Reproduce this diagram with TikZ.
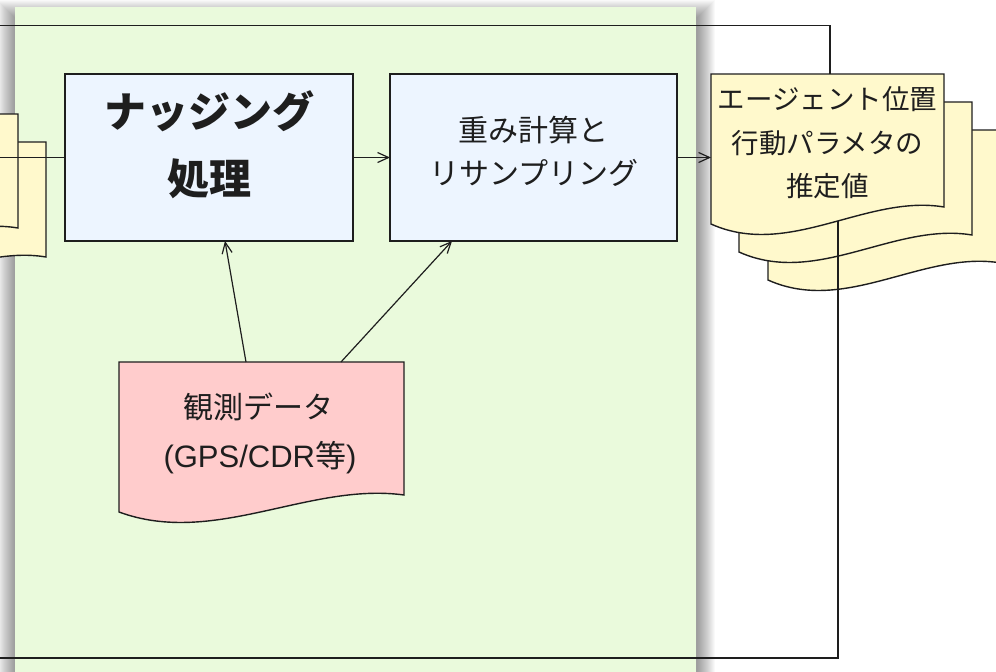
\documentclass[tikz,border=0pt]{standalone}
\usepackage{fontspec}
\setmainfont{Liberation Sans}
\newfontfamily\jp{Noto Sans CJK JP}
\usetikzlibrary{arrows.meta,calc}
\definecolor{panelgreen}{RGB}{234,250,220}
\definecolor{boxblue}{RGB}{237,245,255}
\definecolor{docyellow}{RGB}{255,249,204}
\definecolor{obspink}{RGB}{255,204,204}
\definecolor{ink}{RGB}{30,30,30}
\newcommand{\mydoc}[6]{%
  \path[draw=ink,line width=1.4pt,fill=#6,line join=miter]
    (#2,#3) -- ++(#4,0) -- ++(0,#5-17)
    .. controls ($(#2,#3)+(2*#4/3,#5-30)$) and ($(#2,#3)+(#4/3,#5+35)$) .. ($(#2,#3)+(0,#5)$) -- cycle;
  \node[minimum width=#4pt,minimum height=#5pt,inner sep=0pt,outer sep=0pt,anchor=north west] (#1) at (#2,#3) {};
}
\begin{document}
\begin{tikzpicture}[x=1pt,y=-1pt,
  box/.style={draw=ink,line width=1.5pt,fill=boxblue,minimum height=167pt,inner sep=0pt,outer sep=0pt},
  conn/.style={draw=ink,line width=1.2pt},
  arr/.style={conn,-{Straight Barb[length=11pt,width=10pt]}},
  txt/.style={inner sep=0pt,anchor=base,text=ink}]
\useasboundingbox (0,0) rectangle (996,672);
\clip (0,0) rectangle (996,672);
\fill[white] (0,0) rectangle (996,672);
% panel shadow
\foreach \k in {1,...,18}{
  \fill[black,opacity=0.022] (15-\k,18-\k) rectangle (697+\k,700);
}
% panel
\fill[panelgreen] (15,7) rectangle (696,700);
% left stack (cropped)
\mydoc{ldocB}{-187}{142}{233}{132}{docyellow}
\mydoc{ldocA}{-215}{114}{233}{131}{docyellow}
% right stack
\mydoc{doc3}{768}{130}{233}{150}{docyellow}
\mydoc{doc2}{739}{102}{233}{150}{docyellow}
\mydoc{doc1}{711}{74}{233}{150}{docyellow}
% observation
\mydoc{obs}{119}{362}{285}{150}{obspink}
% boxes
\node[box,minimum width=288pt] (nudge) at (209,157.5) {};
\node[box,minimum width=287pt] (weight) at (533.5,157.5) {};
% texts
\node[txt,font=\jp\bfseries\fontsize{42}{50}\selectfont] (nt1) at (209,127.5) {ナッジング};
\node[txt,font=\jp\bfseries\fontsize{42}{50}\selectfont] (nt2) at (209,194) {処理};
\node[txt,font=\jp\fontsize{30}{36}\selectfont] (wt1) at (533,141) {重み計算と};
\node[txt,font=\jp\fontsize{30}{36}\selectfont] (wt2) at (534,184.5) {リサンプリング};
\node[txt,font=\jp\fontsize{27.5}{33}\selectfont] (dt1) at (827.5,109) {エージェント位置};
\node[txt,font=\jp\fontsize{27.5}{33}\selectfont] (dt2) at (827.5,153.5) {行動パラメタの};
\node[txt,font=\jp\fontsize{27.5}{33}\selectfont] (dt3) at (827.5,196) {推定値};
\node[txt,font=\jp\fontsize{30}{36}\selectfont] (ot1) at (258,418) {観測データ};
\node[txt,font=\fontsize{31}{36}\selectfont] (ot2) at (260,467) {(GPS/CDR{\jp 等})};
% free ends and connection points
\coordinate (lfree) at (-5,157.5);
\coordinate (topfree) at (-5,25.5);
\coordinate (botfree) at (-5,658);
\coordinate (doc1top) at (830,74);
\coordinate (doc1out) at (838,221);
\coordinate (obsA) at (246,362);
\coordinate (obsB) at (341,362);
\coordinate (nudgeIn) at (225,241);
\coordinate (weightIn) at (452,241);
% connectors
\draw[conn] (lfree) -- (nudge.west);
\draw[arr] (nudge.east) -- (weight.west);
\draw[arr] (weight.east) -- (weight.east -| doc1.west);
\draw[arr] (obsA) -- (nudgeIn);
\draw[arr] (obsB) -- (weightIn);
\draw[conn] (topfree) -| (doc1top);
\draw[conn] (doc1out) |- (botfree);
\end{tikzpicture}
\end{document}
